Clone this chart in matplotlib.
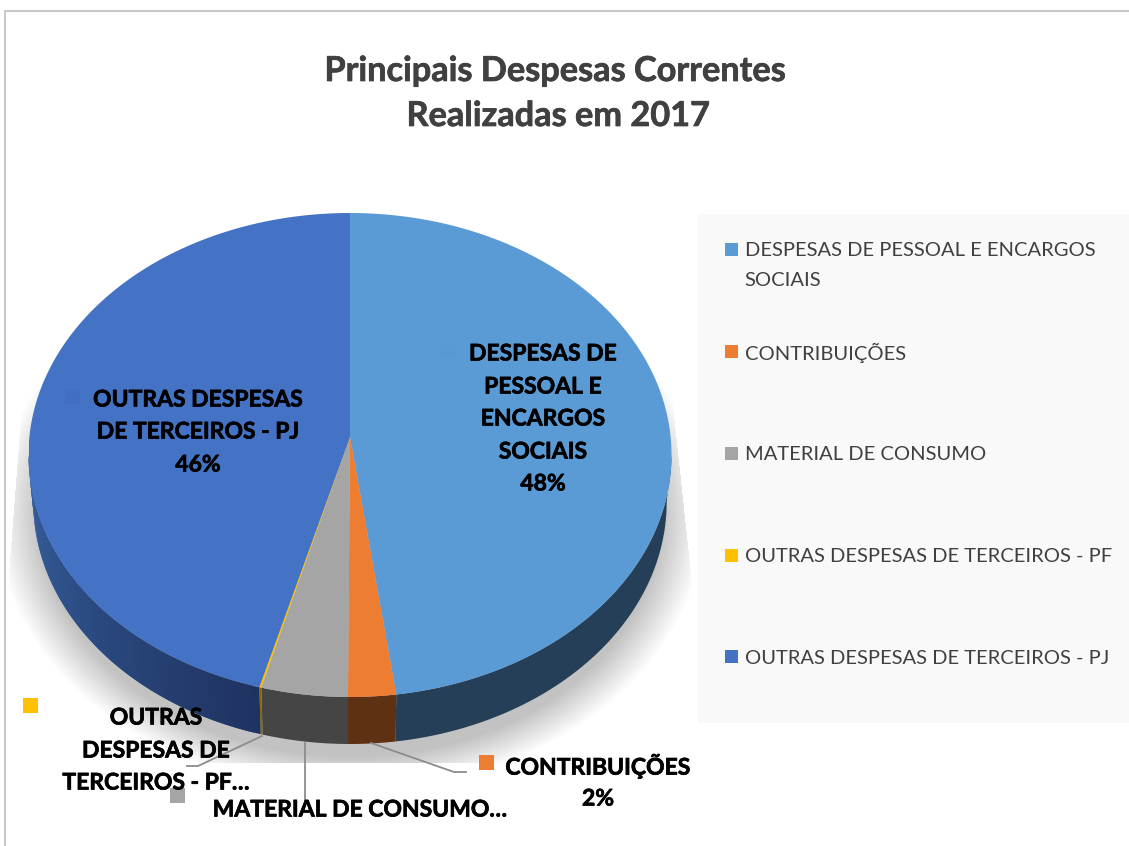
import numpy as np
import matplotlib
matplotlib.use('Agg')
import matplotlib.pyplot as plt
import matplotlib.patheffects as pe
from matplotlib.colors import to_rgb
from matplotlib.patches import Polygon, Rectangle

W, H = 1129, 846

categorias = ['DESPESAS DE PESSOAL E ENCARGOS SOCIAIS', 'CONTRIBUIÇÕES', 'MATERIAL DE CONSUMO',
              'OUTRAS DESPESAS DE TERCEIROS - PF', 'OUTRAS DESPESAS DE TERCEIROS - PJ']
valores = [47.7, 2.4, 4.35, 0.1, 45.45]
cores = ['#5B9BD5', '#ED7D31', '#A5A5A5', '#FFC000', '#4472C4']
cores_lado = ['#243F57', '#5E3113', '#454545', '#8A6A00', '#2A4A8A']

legenda_linhas = [['DESPESAS DE PESSOAL E ENCARGOS', 'SOCIAIS'], ['CONTRIBUIÇÕES'], ['MATERIAL DE CONSUMO'],
                  ['OUTRAS DESPESAS DE TERCEIROS - PF'], ['OUTRAS DESPESAS DE TERCEIROS - PJ']]
legenda_y = [251, 353, 455, 557, 658]

plt.rcParams['font.family'] = ['Lato', 'DejaVu Sans']

# geometria da pizza em pixels
cx, cy, rx, ry = 350, 455, 321.5, 242
prof = 47 / ry
apice = (cy - 437) / ry  # perspectiva: o centro das fatias fica acima do centro da elipse

fig = plt.figure(figsize=(W / 100, H / 100), dpi=100, facecolor='white')

# fundo: moldura, caixa da legenda e sombra
fundo = fig.add_axes([0, 0, 1, 1], zorder=0)
fundo.axis('off')
fundo.plot([5, 5, W], [H, 11, 11], color='#c9c9c9', lw=1.5)
fundo.add_patch(Rectangle((698, 214), W - 698, 509, fc='#F9F9F9', ec='none'))

xx, yy = np.meshgrid(np.arange(W), np.arange(H))
d = np.sqrt(((xx - 350) / 345) ** 2 + ((yy - 515) / 268) ** 2)
alfa = np.clip((1.03 - d) / 0.13, 0, 1) * 0.24
alfa[yy > 762] = 0
alfa[xx > 672 + (yy - 400) * 20 / 187] = 0
alfa[xx < 25 - (yy - 360) * 17 / 220] = 0
alfa[yy < 330] = 0
img = np.zeros((H, W, 4))
img[..., 3] = alfa
fundo.imshow(img, extent=(0, W, H, 0), aspect='auto', interpolation='bilinear')
fundo.set_xlim(0, W)
fundo.set_ylim(H, 0)

# pizza: eixo com raio 1 esticado para virar elipse
ax = fig.add_axes([(cx - rx) / W, 1 - (cy + ry) / H, 2 * rx / W, 2 * ry / H], zorder=1)
ax.axis('off')
ax.set_xlim(-1, 1)
ax.set_ylim(-1, 1)

acum = np.concatenate([[0], np.cumsum(valores)]) / sum(valores) * 2 * np.pi

# tampo das fatias
for i in range(len(valores)):
    t = np.linspace(acum[i], acum[i + 1], 300)
    ax.fill(np.r_[0, np.sin(t)], np.r_[apice, np.cos(t)], color=cores[i], lw=0, zorder=2)

# parede lateral
ini = np.array(to_rgb('#1F3361'))
fim = np.array(to_rgb('#37609F'))
for i in range(len(valores)):
    a0 = max(acum[i], np.pi / 2)
    a1 = min(acum[i + 1], 3 * np.pi / 2)
    if a1 <= a0:
        continue
    n = 60 if i == len(valores) - 1 else 1
    limites = np.linspace(a0, a1, n + 1)
    for k in range(n):
        # cada faixa avança sobre a seguinte para não deixar emenda
        fim_t = limites[min(k + 2, n)] if n > 1 else limites[k + 1]
        t = np.linspace(limites[k], fim_t, 60)
        x = np.sin(t)
        y = np.cos(t)
        pts = np.column_stack([np.r_[x, x[::-1] * 0.985], np.r_[y, y[::-1] - prof]])
        if n > 1:
            cor = ini + (fim - ini) * (k / (n - 1))
        else:
            cor = cores_lado[i]
        ax.add_patch(Polygon(pts, closed=True, fc=cor, ec='none', clip_on=False, zorder=1 + k * 0.001))

# textos e chaves
top = fig.add_axes([0, 0, 1, 1], zorder=2)
top.set_xlim(0, W)
top.set_ylim(H, 0)
top.axis('off')
top.patch.set_alpha(0)

traco = [pe.withStroke(linewidth=0.5, foreground='#404040')]
top.text(555, 71, 'Principais Despesas Correntes', fontsize=24.7, fontweight='bold', color='#404040',
         ha='center', va='center', path_effects=traco)
top.text(558, 116, 'Realizadas em 2017', fontsize=24.7, fontweight='bold', color='#404040',
         ha='center', va='center', path_effects=traco)

for linhas, y0, cor in zip(legenda_linhas, legenda_y, cores):
    top.add_patch(Rectangle((725, y0 - 7.5), 13, 13, fc=cor, ec='none'))
    top.text(745, y0, linhas[0], fontsize=14.5, color='#404040', va='center')
    if len(linhas) > 1:
        top.text(744, y0 + 30, linhas[1], fontsize=14.5, color='#404040', va='center')

def rotulo(x, ys, linhas):
    for y, s in zip(ys, linhas):
        top.text(x, y + 2, s, fontsize=16.5, fontweight='bold', color='black', ha='center', va='center',
                 path_effects=[pe.withStroke(linewidth=0.5, foreground='black')])

rotulo(543, [352, 385, 417, 450, 482], ['DESPESAS DE', 'PESSOAL E', 'ENCARGOS', 'SOCIAIS', '48%'])
rotulo(198, [398, 430, 463], ['OUTRAS DESPESAS', 'DE TERCEIROS - PJ', '46%'])
rotulo(156, [716, 749, 781], ['OUTRAS', 'DESPESAS DE', 'TERCEIROS - PF…'])
rotulo(360, [808], ['MATERIAL DE CONSUMO…'])
rotulo(598, [764, 797], ['CONTRIBUIÇÕES', '2%'])

# chaves dos rótulos
top.add_patch(Rectangle((23, 698), 15, 15, fc=cores[3], ec='none'))
top.add_patch(Rectangle((170, 788), 15, 15, fc=cores[2], ec='none'))
top.add_patch(Rectangle((479, 755), 15, 15, fc=cores[1], ec='none'))
top.add_patch(Rectangle((65, 390), 15, 14, fc='#426EC1', ec='none'))
top.add_patch(Rectangle((441, 344), 15, 14, fc='#5999D3', ec='none'))

# linhas de chamada
top.plot([262, 198, 187], [736, 766, 766], color='#8c8c8c', lw=1.3)
top.plot([305, 305], [743, 800], color='#8c8c8c', lw=1.3)
top.plot([371, 454, 466], [743, 772, 772], color='#8c8c8c', lw=1.3)

fig.savefig('out.png', dpi=100)
